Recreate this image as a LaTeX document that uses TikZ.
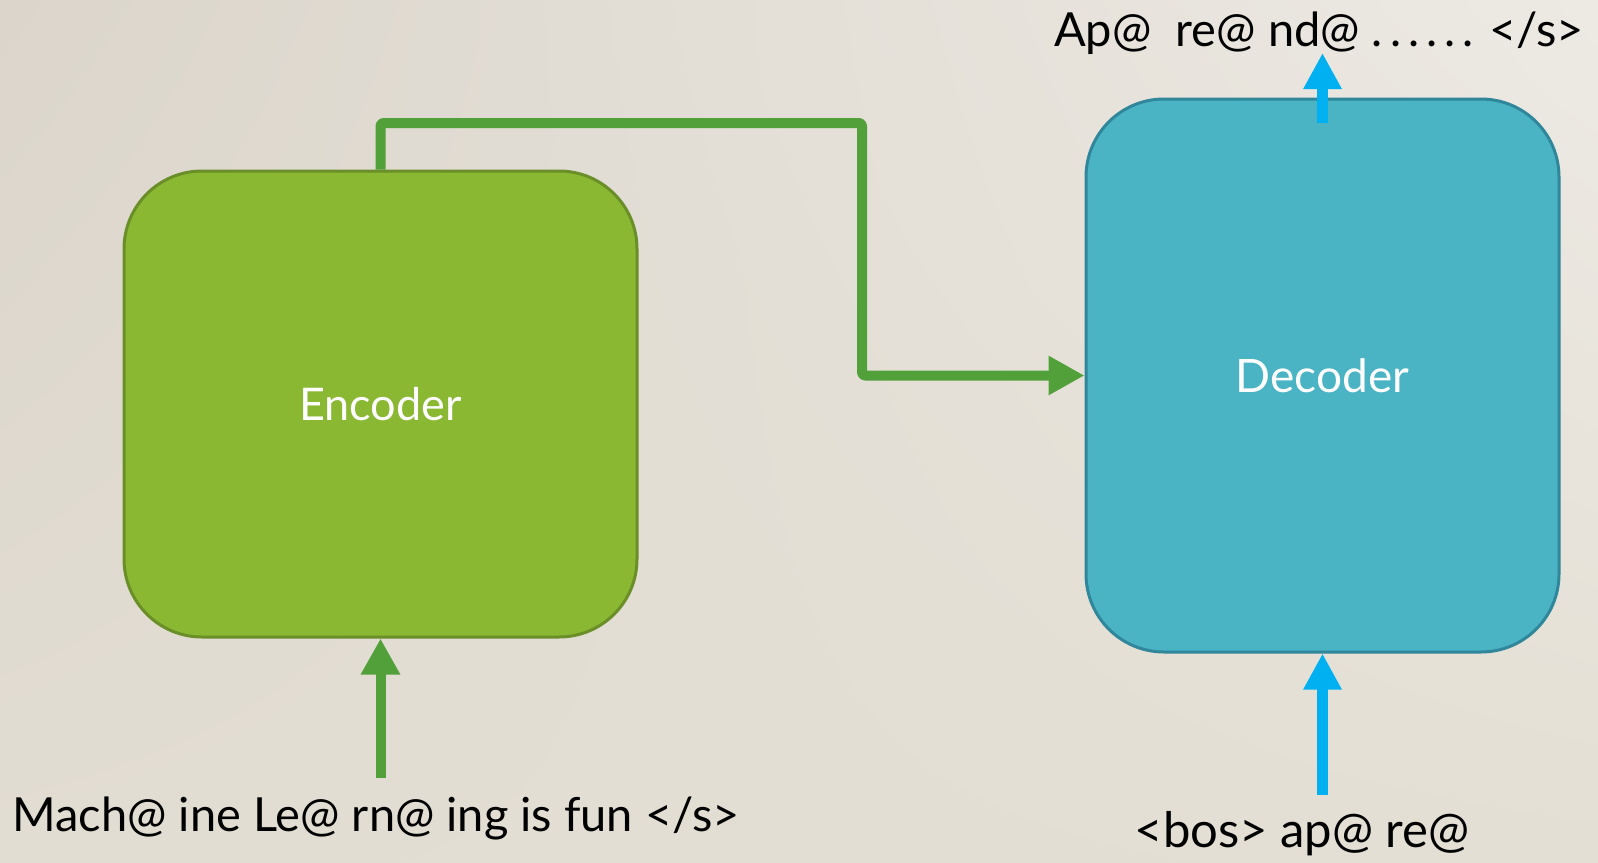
\documentclass[tikz,border=0pt]{standalone}
\usepackage{fontspec}
\setmainfont{Lato}
\usetikzlibrary{arrows.meta,shadings}
\definecolor{encfill}{HTML}{8AB833}
\definecolor{encdraw}{HTML}{6A8E28}
\definecolor{decfill}{HTML}{4AB4C4}
\definecolor{decdraw}{HTML}{30869A}
\definecolor{linkgreen}{HTML}{52A03A}
\definecolor{arrowblue}{HTML}{00B0F0}
\definecolor{bgul}{RGB}{219,213,203}
\definecolor{bgur}{RGB}{237,234,228}
\definecolor{bgll}{RGB}{226,221,210}
\definecolor{bglr}{RGB}{228,223,212}
\tikzset{
  block/.style={draw, line width=3pt, rounded corners=78pt, inner sep=0pt,
    font=\fontsize{46}{54}\selectfont, text=white},
  token/.style={font=\fontsize{47}{55}\selectfont, text=black, inner sep=0pt},
  greenarrow/.style={draw=linkgreen, line width=10pt,
    -{Triangle[length=36pt,width=37pt]}},
  bluearrow/.style={draw=arrowblue, line width=11pt,
    -{Triangle[length=36pt,width=36pt]}},
}
\begin{document}
\begin{tikzpicture}[x=1pt,y=-1pt]
\shade[upper left=bgul, upper right=bgur, lower left=bgll, lower right=bglr]
  (0,0) rectangle (1598,862);
\useasboundingbox (0,0) rectangle (1598,862);

\node[block, fill=encfill, draw=encdraw, minimum width=513pt, minimum height=466pt]
  (enc) at (380.5,404) {\fontsize{45}{53}\selectfont Encoder};
\node[block, fill=decfill, draw=decdraw, minimum width=473pt, minimum height=553pt]
  (dec) at (1322.5,375.5) {Decoder};

\node[token] (src) at (376,818) {Mach@ ine Le@ rn@ ing is fun </s>};
\node[token, font=\fontsize{49}{57}\selectfont] (tgtin) at (1302,834) {<bos> ap@ re@};
\node[token] (tgtout) at (1319,33)
  {Ap@\ \ re@ nd@ .\kern7pt.\kern7pt.\kern7pt.\kern7pt.\kern7pt. </s>};

\coordinate (c1) at (862,123);
\coordinate (encin) at (380.5,778);
\coordinate (decin) at (1322.5,795);
\coordinate (decoutstart) at (1322.5,123);
\coordinate (decout) at (1322.5,53);

\draw[greenarrow, rounded corners=3pt, line join=round]
  (enc.north) |- (c1) |- (dec.west);
\draw[greenarrow] (encin) -- (enc.south);
\draw[bluearrow] (decin) -- (dec.south);
\draw[bluearrow] (decoutstart) -- (decout);
\end{tikzpicture}
\end{document}
